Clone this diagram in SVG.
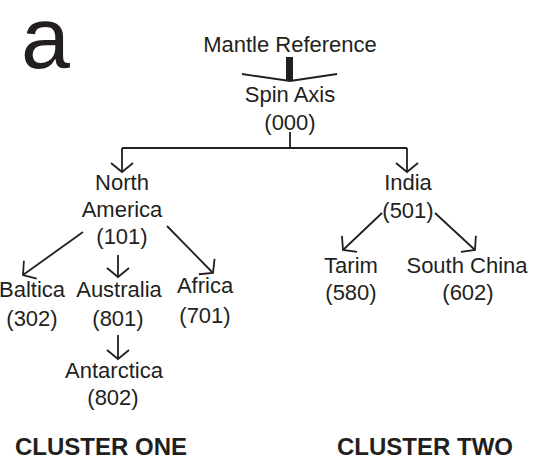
<svg xmlns="http://www.w3.org/2000/svg" width="546" height="460" viewBox="0 0 546 460">
<style>
text{font-family:"Liberation Sans",Arial,sans-serif;font-size:22px;fill:#231f20;text-anchor:middle}
.big{font-size:88px;text-anchor:start}
.cl{font-size:24px;font-weight:bold;text-anchor:start}
.ln{fill:none;stroke:#231f20;stroke-width:1.8}
</style>
<defs>
<marker id="ah" markerUnits="userSpaceOnUse" orient="auto" markerWidth="30" markerHeight="30" refX="0" refY="0" viewBox="-15 -15 30 30" overflow="visible">
<path d="M-9,-11 L0,0 L-9,11" fill="none" stroke="#231f20" stroke-width="1.8"/>
</marker>
</defs>
<rect width="546" height="460" fill="#fff"/>
<text class="big" x="21" y="68">a</text>
<g id="connectors">
<rect x="286" y="57" width="7" height="23" fill="#231f20"/>
<path class="ln" d="M242,74 L290,81 L337,74"/>
<path class="ln" d="M290,132 V148 M122,148 H407"/>
<path class="ln" d="M122,148 V172" marker-end="url(#ah)"/>
<path class="ln" d="M407,148 V172" marker-end="url(#ah)"/>
<path class="ln" d="M83,232 L23,275" marker-end="url(#ah)"/>
<path class="ln" d="M118,255 V277" marker-end="url(#ah)"/>
<path class="ln" d="M167,226 L213,273" marker-end="url(#ah)"/>
<path class="ln" d="M118,335 V359" marker-end="url(#ah)"/>
<path class="ln" d="M382,213 L343,250" marker-end="url(#ah)"/>
<path class="ln" d="M435,213 L475,250" marker-end="url(#ah)"/>
</g>
<g id="mantle"><text x="290" y="52">Mantle Reference</text></g>
<g id="spin"><text x="290" y="102">Spin Axis</text><text x="290" y="130">(000)</text></g>
<g id="northamerica"><text x="122" y="190">North</text><text x="122" y="217">America</text><text x="122" y="244">(101)</text></g>
<g id="baltica"><text x="32" y="297">Baltica</text><text x="32" y="326">(302)</text></g>
<g id="australia"><text x="119" y="297">Australia</text><text x="118" y="326">(801)</text></g>
<g id="africa"><text x="205" y="293">Africa</text><text x="205" y="323">(701)</text></g>
<g id="antarctica"><text x="114" y="378">Antarctica</text><text x="113" y="405">(802)</text></g>
<g id="india"><text x="408" y="190">India</text><text x="408" y="218">(501)</text></g>
<g id="tarim"><text x="351" y="273">Tarim</text><text x="351" y="300">(580)</text></g>
<g id="southchina"><text x="467" y="273">South China</text><text x="468" y="300">(602)</text></g>
<g id="clusters"><text class="cl" x="15" y="455">CLUSTER ONE</text><text class="cl" x="337" y="455">CLUSTER TWO</text></g>
</svg>
